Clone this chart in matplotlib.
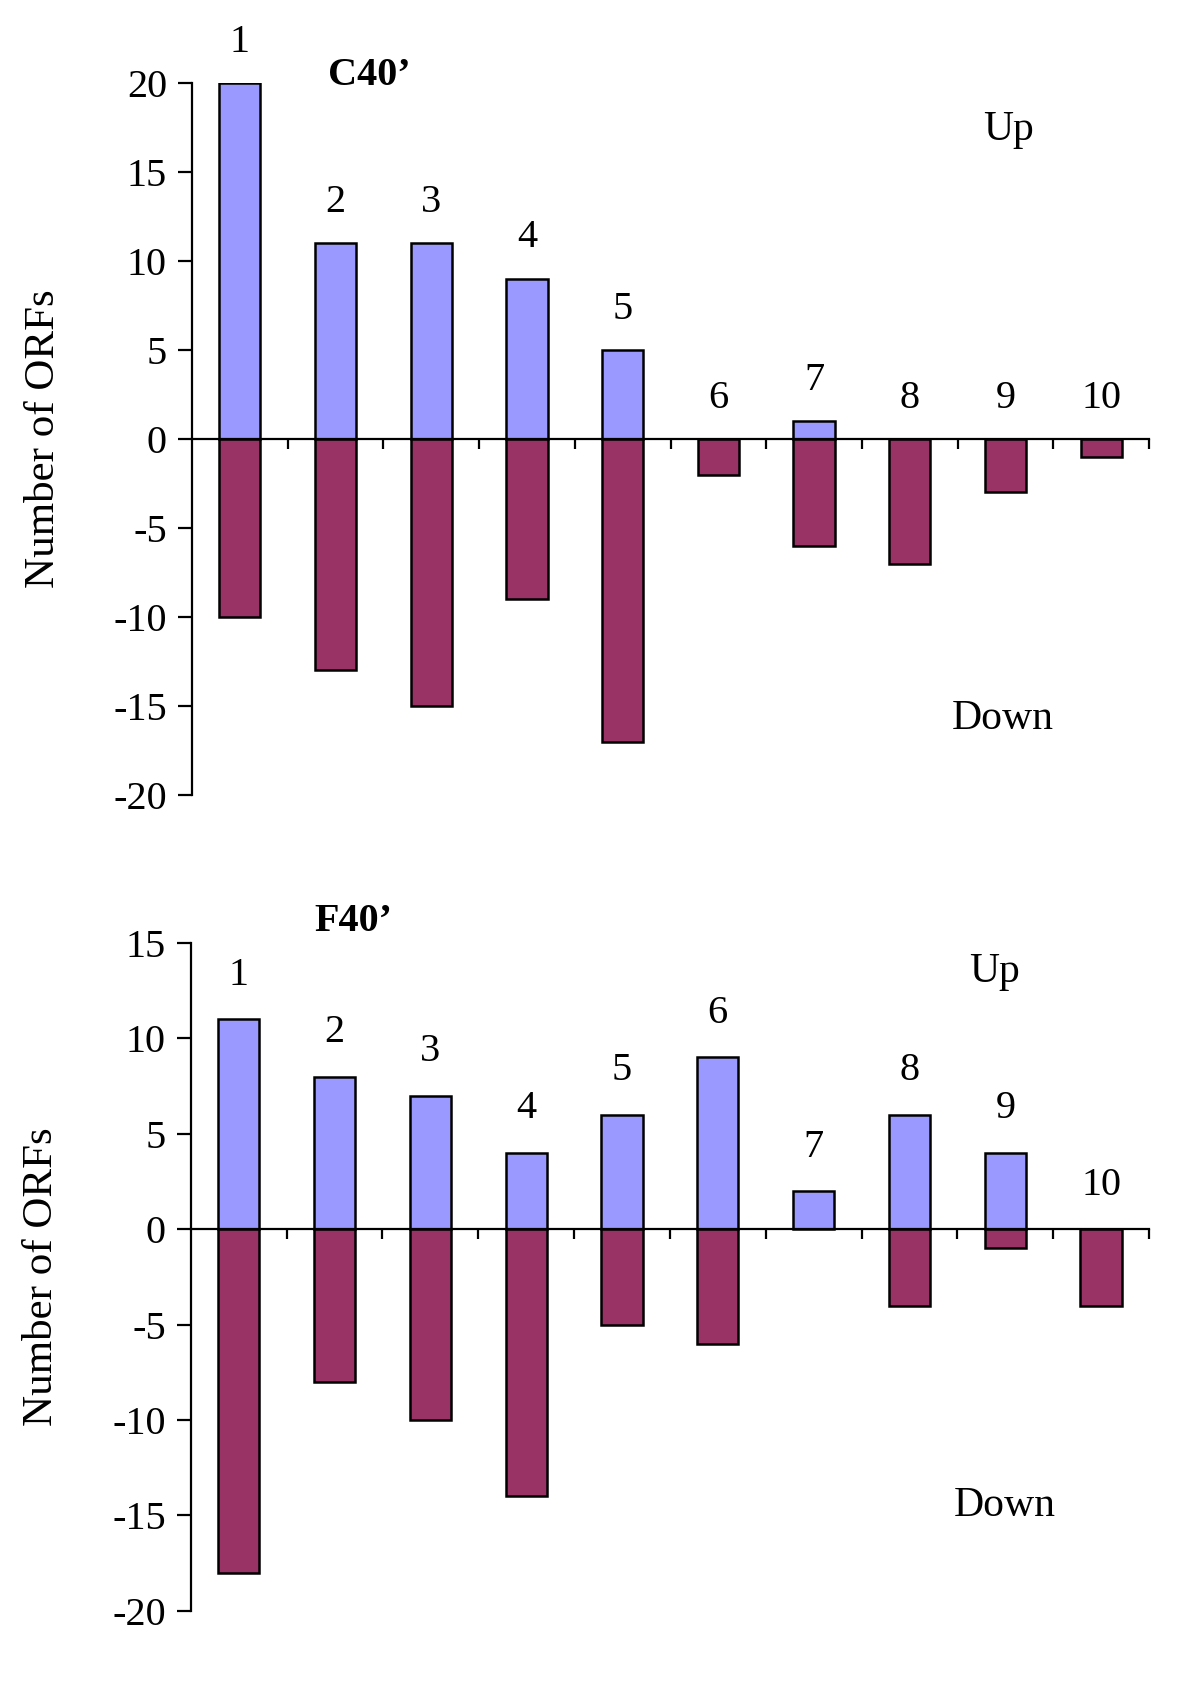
import numpy as np
import matplotlib
matplotlib.use("Agg")
import matplotlib.pyplot as plt

plt.rcParams['font.family'] = ['Liberation Serif', 'DejaVu Serif']

categories = ['1', '2', '3', '4', '5', '6', '7', '8', '9', '10']

c40_up = [20, 11, 11, 9, 5, 0, 1, 0, 0, 0]
c40_down = [-10, -13, -15, -9, -17, -2, -6, -7, -3, -1]

f40_up = [11, 8, 7, 4, 6, 9, 2, 6, 4, 0]
f40_down = [-18, -8, -10, -14, -5, -6, 0, -4, -1, -4]

UP_COLOR = '#9999FF'
DOWN_COLOR = '#993366'
FS = 29


def draw_panel(ax, up, down, title, ymax, yticks, title_xy, up_xy, down_xy):
    xs = np.arange(1, len(categories) + 1)
    up = np.array(up)
    down = np.array(down)
    ax.bar(xs[up != 0], up[up != 0], width=0.43, color=UP_COLOR,
           edgecolor='black', linewidth=1.8, zorder=2)
    ax.bar(xs[down != 0], down[down != 0], width=0.43, color=DOWN_COLOR,
           edgecolor='black', linewidth=1.8, zorder=2)

    for x, u, lab in zip(xs, up, categories):
        ax.text(x, max(u, 0) + 2.3, lab, ha='center', va='center',
                fontsize=FS, clip_on=False)

    ax.set_xlim(0.5, len(categories) + 0.5)
    ax.set_ylim(-20, ymax)
    ax.set_yticks(yticks)
    ax.set_yticklabels([str(t) for t in yticks], fontsize=FS)

    ax.spines['top'].set_visible(False)
    ax.spines['right'].set_visible(False)
    ax.spines['bottom'].set_position(('data', 0))
    ax.spines['bottom'].set_zorder(3)
    for s in ('left', 'bottom'):
        ax.spines[s].set_linewidth(1.6)

    ax.set_xticks(np.arange(1.5, len(categories) + 1, 1.0))
    ax.tick_params(axis='x', direction='out', length=7, width=1.6,
                   labelbottom=False)
    ax.tick_params(axis='y', direction='out', length=10, width=1.6, pad=8)

    ax.set_ylabel('Number of ORFs', fontsize=31)
    ax.yaxis.set_label_coords(-0.135, 0.5)

    ax.text(*title_xy, title, fontsize=FS, fontweight='bold',
            ha='center', va='center', clip_on=False)
    ax.text(*up_xy, 'Up', fontsize=FS + 1, ha='center', va='center')
    ax.text(*down_xy, 'Down', fontsize=FS + 1, ha='center', va='center')


fig = plt.figure(figsize=(12, 16.95), dpi=100)

ax1 = fig.add_axes([0.16, 0.531, 0.7975, 0.42])
draw_panel(ax1, c40_up, c40_down, 'C40\u2019', 20,
           [-20, -15, -10, -5, 0, 5, 10, 15, 20],
           (2.35, 20.4), (9.03, 17.4), (8.97, -15.7))

ax2 = fig.add_axes([0.159, 0.0496, 0.7985, 0.3941])
draw_panel(ax2, f40_up, f40_down, 'F40\u2019', 15,
           [-20, -15, -10, -5, 0, 5, 10, 15],
           (2.2, 16.1), (8.89, 13.5), (8.99, -14.5))

fig.savefig('out.png', dpi=100)
